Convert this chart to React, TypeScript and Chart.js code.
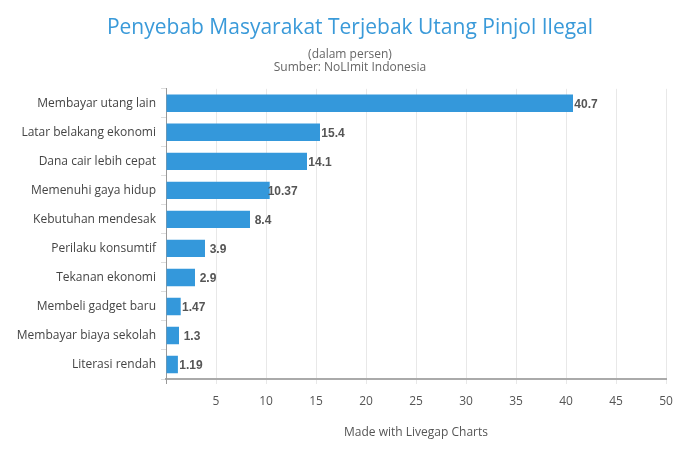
import React, { useEffect, useRef } from "react";
import { Chart, registerables } from "chart.js";

Chart.register(...registerables);

const categories = [
  "Membayar utang lain",
  "Latar belakang ekonomi",
  "Dana cair lebih cepat",
  "Memenuhi gaya hidup",
  "Kebutuhan mendesak",
  "Perilaku konsumtif",
  "Tekanan ekonomi",
  "Membeli gadget baru",
  "Membayar biaya sekolah",
  "Literasi rendah",
];
const values = [40.7, 15.4, 14.1, 10.37, 8.4, 3.9, 2.9, 1.47, 1.3, 1.19];
const valueLabels = ["40.7", "15.4", "14.1", "10.37", "8.4", "3.9", "2.9", "1.47", "1.3", "1.19"];
const titleText = "Penyebab Masyarakat Terjebak Utang Pinjol Ilegal";
const subtitleLines = ["(dalam persen)", "Sumber: NoLImit Indonesia"];
const xAxisTitle = "Made with Livegap Charts";

const FONT = "'Open Sans', sans-serif";

const valueLabelPlugin = {
  id: "valueLabels",
  afterDatasetsDraw(chart: any) {
    const ctx = chart.ctx;
    const meta = chart.getDatasetMeta(0);
    ctx.save();
    ctx.font = "bold 12px 'Liberation Sans', Arial, sans-serif";
    ctx.fillStyle = "#555555";
    ctx.textAlign = "center";
    ctx.textBaseline = "middle";
    meta.data.forEach((bar: any, i: number) => {
      ctx.fillText(valueLabels[i], bar.x + 13, bar.y + 1);
    });
    ctx.restore();
  },
};

export default function App() {
  const ref = useRef<HTMLCanvasElement | null>(null);
  useEffect(() => {
    if (!ref.current) return;
    const chart = new Chart(ref.current, {
      type: "bar",
      data: {
        labels: categories,
        datasets: [
          {
            data: values,
            backgroundColor: "#3498db",
            borderWidth: 0,
            barPercentage: 0.6,
            categoryPercentage: 1,
          },
        ],
      },
      options: {
        indexAxis: "y",
        animation: false,
        responsive: false,
        layout: { padding: { left: 0, right: 0, top: 0, bottom: 0 } },
        plugins: {
          legend: { display: false },
          tooltip: { enabled: false },
          title: {
            display: true,
            text: titleText,
            color: "#3a9ad9",
            font: { family: FONT, size: 21, weight: "normal" },
            padding: { top: 15, bottom: 7 },
          },
          subtitle: {
            display: true,
            text: subtitleLines,
            color: "#666666",
            font: { family: FONT, size: 12, weight: "normal", lineHeight: 1.15 },
            padding: { top: 0, bottom: 14 },
          },
        },
        scales: {
          x: {
            min: 0,
            max: 50,
            ticks: {
              stepSize: 5,
              color: "#555555",
              font: { family: FONT, size: 12 },
              padding: 10,
              callback: (v: any) => (v === 0 ? "" : String(v)),
            },
            grid: {
              color: (c: any) => (c.index === 0 ? "#999999" : "#e8e8e8"),
              tickLength: 5,
            },
            border: { color: "#aaaaaa", width: 2 },
            title: {
              display: true,
              text: xAxisTitle,
              color: "#555555",
              font: { family: FONT, size: 12 },
              padding: { top: 2, bottom: 10 },
            },
            afterFit: (s: any) => {
              s.height = 71;
            },
          },
          y: {
            ticks: {
              color: "#444444",
              font: { family: FONT, size: 12 },
              padding: 5,
            },
            grid: {
              offset: true,
              drawOnChartArea: false,
              color: "#dddddd",
              tickLength: 5,
            },
            border: { color: "#999999", width: 1 },
            afterFit: (s: any) => {
              s.width = 166;
            },
          },
          yRight: {
            type: "category",
            axis: "y",
            position: "right",
            labels: categories,
            grid: { display: false, drawOnChartArea: false },
            ticks: { display: false },
            border: { display: false },
            afterFit: (s: any) => {
              s.width = 34;
            },
          },
        },
      },
      plugins: [valueLabelPlugin],
    });
    return () => chart.destroy();
  }, []);
  return (
    <div style={{ position: "absolute", left: 0, top: 0, width: 700, height: 450 }}>
      <canvas ref={ref} width={700} height={450} />
    </div>
  );
}
